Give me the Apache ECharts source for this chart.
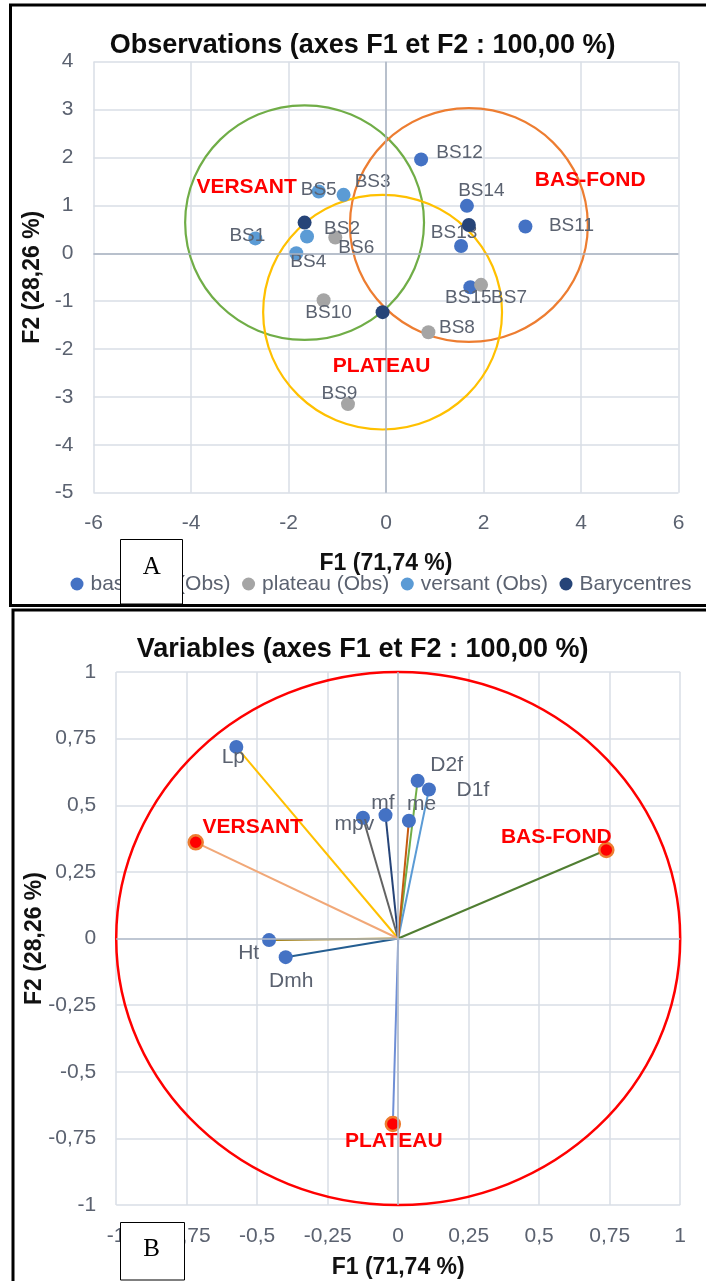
<!DOCTYPE html>
<html>
<head>
<meta charset="utf-8">
<script src="https://cdn.jsdelivr.net/npm/echarts@6/dist/echarts.min.js"></script>
<style>html,body{margin:0;padding:0;background:#fff}#c{width:706px;height:1281px}</style>
</head>
<body>
<div id="c"></div>
<script>
// ---------- Chart A : Observations ----------
const basfondNames = ['BS11', 'BS12', 'BS13', 'BS14', 'BS15'];
const basfondF1 = [2.86, 0.72, 1.54, 1.66, 1.73];
const basfondF2 = [0.56, 1.96, 0.15, 0.99, -0.71];
const plateauNames = ['BS6', 'BS7', 'BS8', 'BS9', 'BS10'];
const plateauF1 = [-1.04, 1.95, 0.87, -0.78, -1.28];
const plateauF2 = [0.33, -0.66, -1.65, -3.15, -0.98];
const versantNames = ['BS1', 'BS2', 'BS3', 'BS4', 'BS5'];
const versantF1 = [-2.68, -1.62, -0.87, -1.84, -1.38];
const versantF2 = [0.31, 0.35, 1.22, 0.00, 1.29];
const baryNames = ['versant', 'bas-fond', 'plateau'];
const baryF1 = [-1.67, 1.70, -0.07];
const baryF2 = [0.64, 0.59, -1.23];
const circleRadius = [2.45, 2.44, 2.45];
const groupNames = ['VERSANT', 'BAS-FOND', 'PLATEAU'];
const groupLabelF1 = [-2.86, 4.19, -0.09];
const groupLabelF2 = [1.37, 1.53, -2.35];
const legendNames = ['bas-fond (Obs)', 'plateau (Obs)', 'versant (Obs)', 'Barycentres'];

// ---------- Chart B : Variables ----------
const varNames = ['Lp', 'D2f', 'D1f', 'me', 'mf', 'mpv', 'Ht', 'Dmh'];
const varF1 = [-0.574, 0.069, 0.109, 0.038, -0.045, -0.125, -0.458, -0.399];
const varF2 = [0.719, 0.592, 0.559, 0.442, 0.463, 0.453, -0.006, -0.070];
const supNames = ['VERSANT', 'BAS-FOND', 'PLATEAU'];
const supF1 = [-0.718, 0.738, -0.019];
const supF2 = [0.361, 0.332, -0.696];

// ---------- styling ----------
const FONT = '"Liberation Sans", Arial, sans-serif';
const TXT = '#5b6270';
const circleColors = ['#70AD47', '#ED7D31', '#FFC000'];
const varLineColors = { Lp: '#FFC000', D2f: '#70AD47', D1f: '#5B9BD5', me: '#C55A11', mf: '#264478', mpv: '#636363', Ht: '#997300', Dmh: '#255E91' };
const supLineColors = { 'VERSANT': '#F1A878', 'BAS-FOND': '#507E32', 'PLATEAU': '#6F8FD6' };
const obsLabelOffset = {
  BS1: [-8, -2.5], BS2: [35, -8], BS3: [29, -13], BS4: [12, 9], BS5: [0, -2],
  BS6: [21, 10], BS7: [28, 13], BS8: [28.5, -5], BS9: [-8.5, -10], BS10: [5, 12.5],
  BS11: [46, -1], BS12: [38.5, -6.5], BS13: [-7, -13.5], BS14: [14.5, -15], BS15: [-2, 11]
};
const varLabelOffset = {
  Lp: [-3, 10.5], D2f: [29, -16], D1f: [44, 1], me: [12.7, -16.3], mf: [-2.7, -11.6],
  mpv: [-8.6, 6.6], Ht: [-20.4, 13.3], Dmh: [5.5, 24],
  'VERSANT': [57, -15], 'BAS-FOND': [-50, -13], 'PLATEAU': [1, 17]
};
const comma = v => String(v).replace('.', ',');

function obsSeries(name, names, xs, ys, color) {
  return {
    type: 'scatter', name: name, xAxisIndex: 0, yAxisIndex: 0, z: 4,
    symbolSize: 14, itemStyle: { color: color, opacity: 1 }, silent: true,
    label: { show: true, position: 'inside', formatter: '{b}', color: TXT, fontSize: 19, fontFamily: FONT, textBorderWidth: 0 },
    data: names.map((n, i) => ({ name: n, value: [xs[i], ys[i]], label: { offset: obsLabelOffset[n] } }))
  };
}

function vecSeries(n, x, y, lineColor, isSup) {
  const lbl = isSup
    ? { show: true, position: 'inside', formatter: n, offset: varLabelOffset[n], color: '#FF0000', fontWeight: 'bold', fontSize: 21, fontFamily: FONT, textBorderWidth: 0 }
    : { show: true, position: 'inside', formatter: n, offset: varLabelOffset[n], color: TXT, fontSize: 21, fontFamily: FONT, textBorderWidth: 0 };
  return {
    type: 'line', xAxisIndex: 1, yAxisIndex: 1, z: 4, silent: true,
    lineStyle: { color: lineColor, width: 2 },
    symbol: 'circle', symbolSize: 14, showSymbol: true,
    itemStyle: isSup ? { color: '#FF0000', borderColor: '#ED7D31', borderWidth: 2.5, opacity: 1 } : { color: '#4472C4', opacity: 1 },
    data: [
      { value: [0, 0], symbol: 'none', label: { show: false } },
      { value: [x, y], name: n, label: lbl }
    ]
  };
}

function zeroLines(idx, color) {
  return {
    type: 'line', xAxisIndex: idx, yAxisIndex: idx, data: [], z: 1, silent: true,
    markLine: {
      silent: true, symbol: ['none', 'none'], label: { show: false }, animation: false,
      lineStyle: { color: color, width: 1.5, type: 'solid' },
      emphasis: { disabled: true },
      data: [{ xAxis: 0 }, { yAxis: 0 }]
    }
  };
}

function ellipseSeries(idx, data, colors, width) {
  return {
    type: 'custom', xAxisIndex: idx, yAxisIndex: idx, z: 2, silent: true, clip: false,
    data: data,
    renderItem: function (params, api) {
      const c = api.coord([api.value(0), api.value(1)]);
      const s = api.size([api.value(2), api.value(2)]);
      return {
        type: 'ellipse',
        shape: { cx: c[0], cy: c[1], rx: s[0], ry: s[1] },
        style: { fill: 'none', stroke: colors[params.dataIndex], lineWidth: width }
      };
    }
  };
}

const axisCommon = {
  type: 'value',
  axisLine: { show: false }, axisTick: { show: false },
  splitLine: { show: true, lineStyle: { color: '#d9dee6', width: 1.5 } },
  nameLocation: 'middle',
  nameMoveOverlap: false,
  nameTextStyle: { fontFamily: FONT, fontSize: 23, fontWeight: 'bold', color: '#111' }
};

const series = [];
series.push(zeroLines(0, '#aab3c2'));
series.push(ellipseSeries(0, baryF1.map((x, i) => [x, baryF2[i], circleRadius[i]]), circleColors, 2.2));
series.push(obsSeries('bas-fond (Obs)', basfondNames, basfondF1, basfondF2, '#4472C4'));
series.push(obsSeries('plateau (Obs)', plateauNames, plateauF1, plateauF2, '#A5A5A5'));
series.push(obsSeries('versant (Obs)', versantNames, versantF1, versantF2, '#5B9BD5'));
series.push({
  type: 'scatter', name: 'Barycentres', xAxisIndex: 0, yAxisIndex: 0, z: 5, silent: true,
  symbolSize: 14, itemStyle: { color: '#264478', opacity: 1 },
  data: baryNames.map((n, i) => ({ name: n, value: [baryF1[i], baryF2[i]] }))
});
series.push({
  type: 'custom', xAxisIndex: 0, yAxisIndex: 0, z: 6, silent: true, clip: false,
  data: groupNames.map((n, i) => ({ name: n, value: [groupLabelF1[i], groupLabelF2[i]] })),
  renderItem: function (params, api) {
    const c = api.coord([api.value(0), api.value(1)]);
    return {
      type: 'text', x: c[0], y: c[1],
      style: { text: groupNames[params.dataIndex], fill: '#FF0000', font: 'bold 21px ' + FONT, textAlign: 'center', textVerticalAlign: 'middle' }
    };
  }
});

series.push(zeroLines(1, '#b3bccb'));
series.push(ellipseSeries(1, [[0, 0, 1]], ['#FF0000'], 2.5));
varNames.forEach((n, i) => series.push(vecSeries(n, varF1[i], varF2[i], varLineColors[n], false)));
supNames.forEach((n, i) => series.push(vecSeries(n, supF1[i], supF2[i], supLineColors[n], true)));

const option = {
  animation: false,
  backgroundColor: '#ffffff',
  grid: [
    { left: 93.5, top: 61.7, width: 585, height: 431 },
    { left: 116.2, top: 672, width: 564, height: 533 }
  ],
  xAxis: [
    Object.assign({}, axisCommon, {
      gridIndex: 0, min: -6, max: 6, interval: 2, name: 'F1 (71,74 %)', nameGap: 59,
      axisLabel: { color: TXT, fontSize: 21, fontFamily: FONT, margin: 20 }
    }),
    Object.assign({}, axisCommon, {
      gridIndex: 1, min: -1, max: 1, interval: 0.25, name: 'F1 (71,74 %)', nameGap: 51,
      axisLabel: { color: TXT, fontSize: 21, fontFamily: FONT, margin: 21, formatter: comma }
    })
  ],
  yAxis: [
    Object.assign({}, axisCommon, {
      gridIndex: 0, min: -5, max: 4, interval: 1, name: 'F2 (28,26 %)', nameGap: 49,
      axisLabel: { color: TXT, fontSize: 21, fontFamily: FONT, margin: 20 }
    }),
    Object.assign({}, axisCommon, {
      gridIndex: 1, min: -1, max: 1, interval: 0.25, name: 'F2 (28,26 %)', nameGap: 70,
      axisLabel: { color: TXT, fontSize: 21, fontFamily: FONT, margin: 20, formatter: comma }
    })
  ],
  legend: {
    data: legendNames, left: 70.5, top: 573.5, padding: 0,
    icon: 'circle', itemWidth: 17, itemHeight: 13, itemGap: 11.5,
    textStyle: { color: TXT, fontSize: 21, fontFamily: FONT },
    selectedMode: false
  },
  graphic: [
    { type: 'rect', z: 100, silent: true, shape: { x: 10.5, y: 5, width: 720, height: 600.5 }, style: { fill: 'none', stroke: '#000', lineWidth: 3 } },
    { type: 'rect', z: 100, silent: true, shape: { x: 13, y: 610, width: 720, height: 700 }, style: { fill: 'none', stroke: '#000', lineWidth: 3 } },
    { type: 'text', z: 100, silent: true, x: 362.6, y: 45.5, style: { text: 'Observations (axes F1 et F2 : 100,00 %)', font: 'bold 27px ' + FONT, fill: '#0d0d0d', textAlign: 'center', textVerticalAlign: 'middle' } },
    { type: 'text', z: 100, silent: true, x: 362.6, y: 649.7, style: { text: 'Variables (axes F1 et F2 : 100,00 %)', font: 'bold 27px ' + FONT, fill: '#0d0d0d', textAlign: 'center', textVerticalAlign: 'middle' } },
    { type: 'rect', z: 110, silent: true, shape: { x: 120.5, y: 539.5, width: 62, height: 64.5 }, style: { fill: '#fff', stroke: '#000', lineWidth: 1 } },
    { type: 'text', z: 111, silent: true, x: 151.7, y: 567, style: { text: 'A', font: '25px "Liberation Serif", "Times New Roman", serif', fill: '#000', textAlign: 'center', textVerticalAlign: 'middle' } },
    { type: 'rect', z: 110, silent: true, shape: { x: 120.5, y: 1222.5, width: 64, height: 57.5 }, style: { fill: '#fff', stroke: '#000', lineWidth: 1 } },
    { type: 'text', z: 111, silent: true, x: 151.7, y: 1249.5, style: { text: 'B', font: '25px "Liberation Serif", "Times New Roman", serif', fill: '#000', textAlign: 'center', textVerticalAlign: 'middle' } }
  ],
  series: series
};

const chart = echarts.init(document.getElementById('c'), null, { renderer: 'canvas' });
chart.setOption(option);
</script>
</body>
</html>
